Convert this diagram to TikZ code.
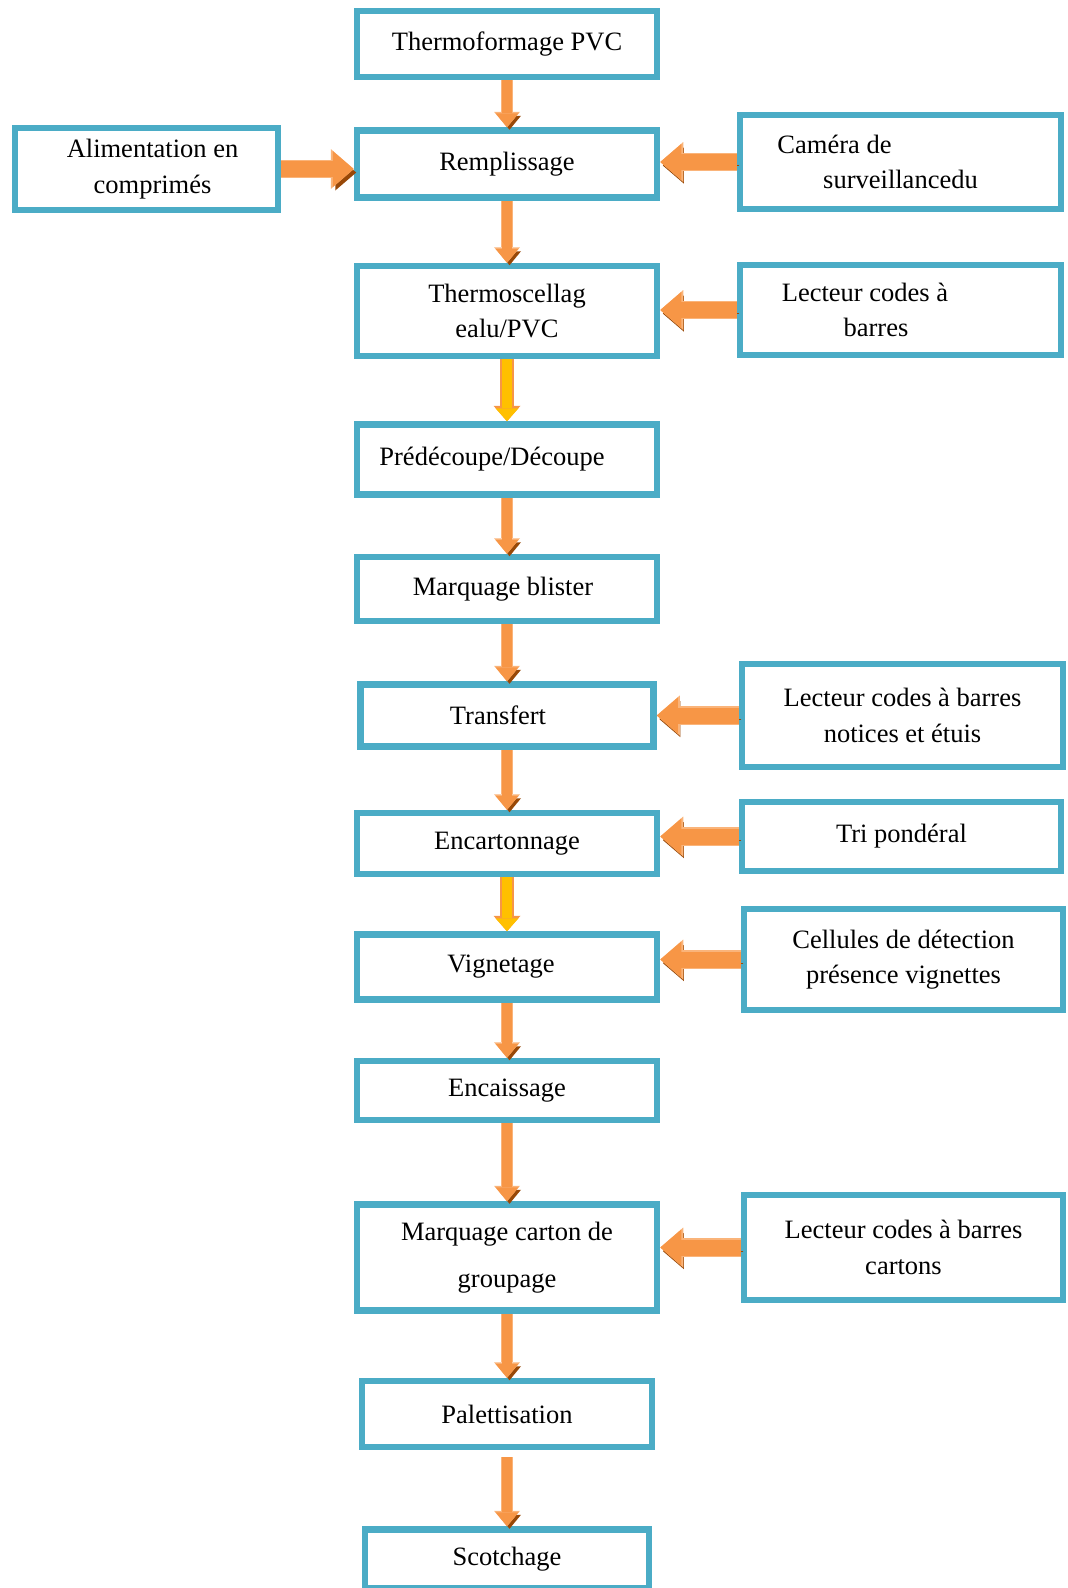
\documentclass[tikz,border=0pt]{standalone}
\usepackage{fontspec}
\setmainfont{Liberation Serif}
\usetikzlibrary{arrows.meta, positioning}
\definecolor{boxBorder}{HTML}{4BACC6}
\definecolor{arrowFill}{HTML}{F79646}
\definecolor{arrowEdge}{HTML}{FAB47A}
\definecolor{arrowShadow}{HTML}{984807}
\definecolor{arrowYellow}{HTML}{FFC000}

\begin{document}
\begin{tikzpicture}[
    x=1pt, y=-1pt,
    font=\fontsize{26.5}{35.5}\selectfont,
    stepbox/.style={
        draw=boxBorder, fill=white, line width=6.5pt,
        minimum width=300pt, minimum height=60pt,
        align=center, inner sep=2pt
    },
    sidebox/.style={
        stepbox, minimum width=319pt
    },
    flowarrow/.style={
        draw=arrowFill, line width=10pt,
        -{Triangle[length=14pt,width=23pt,line width=0pt]},
        preaction={draw=arrowShadow,
            transform canvas={shift={(2.5pt,-2.5pt)}}},
        preaction={draw=arrowEdge, line width=12.5pt,
            -{Triangle[length=15.5pt,width=26pt,line width=0pt]}}
    },
    yellowarrow/.style={
        draw=arrowYellow, line width=10pt,
        -{Triangle[length=13pt,width=23pt,line width=0pt]},
        preaction={draw=arrowFill, line width=13.5pt,
            -{Triangle[length=15.5pt,width=27pt,line width=0pt]}}
    },
    sidearrow/.style={
        draw=arrowFill, line width=16pt,
        -{Triangle[length=21pt,width=36pt,line width=0pt]},
        preaction={draw=arrowShadow,
            transform canvas={shift={(2.5pt,-3.5pt)}}},
        preaction={draw=arrowEdge, line width=18.5pt,
            -{Triangle[length=23pt,width=40pt,line width=0pt]}}
    },
]
\useasboundingbox (0,0) rectangle (1068,1588);

% ============================================================
%  MAIN COLUMN
% ============================================================
\node[stepbox, minimum height=66pt] (thermo) at (507,44) {Thermoformage PVC};

\node[stepbox, minimum height=67pt, below=47pt of thermo] (rempl)
    {Remplissage};

\node[stepbox, minimum height=90pt, below=62pt of rempl] (scell)
    {Thermoscellag\\ealu/PVC};

\node[stepbox, minimum height=70pt, below=62pt of scell] (decoupe)
    {Prédécoupe/Découpe\hspace*{30pt}};

\node[stepbox, minimum height=64pt, below=56pt of decoupe] (marqbl)
    {Marquage blister\hspace*{8pt}};

\node[stepbox, minimum width=293pt, minimum height=62pt,
      below=57pt of marqbl] (transf)
    {Transfert\hspace*{18pt}};

\node[stepbox, minimum height=61pt, below=60pt of transf] (encart)
    {Encartonnage};

\node[stepbox, minimum height=65pt, below=54pt of encart] (vignet)
    {Vignetage\hspace*{12pt}};

\node[stepbox, minimum height=59pt, below=55pt of vignet] (encaiss)
    {Encaissage};

\node[stepbox, minimum height=106pt, below=78pt of encaiss] (marqcart)
    {Marquage carton de\\[12pt]groupage};

\node[stepbox, minimum width=290pt, minimum height=66pt,
      below=64pt of marqcart] (palett)
    {Palettisation};

\node[stepbox, minimum width=284pt, minimum height=59pt,
      below=76pt of palett] (scotch)
    {Scotchage};

% ============================================================
%  SIDE BOXES
% ============================================================
\node[stepbox, minimum width=263pt, minimum height=82pt] (alim)
    at (146.5,169) {\hspace*{12pt}Alimentation en\\\hspace*{12pt}comprimés};

\node[sidebox, minimum width=321pt, minimum height=94pt] (camera)
    at (900.5,162) {Caméra de\hspace*{132pt}\\surveillancedu};

\node[sidebox, minimum width=321pt, minimum height=90pt] (lecteurA)
    at (900.5,310) {Lecteur codes à\hspace*{71pt}\\barres\hspace*{49pt}};

\node[sidebox, minimum width=321pt, minimum height=103pt] (lecteurB)
    at (902.5,715.5) {Lecteur codes à barres\\notices et étuis};

\node[sidebox, minimum height=69pt] (tri)
    at (901.5,836.5) {Tri pondéral};

\node[sidebox, minimum height=101pt] (cellules)
    at (903.5,959.5) {Cellules de détection\\présence vignettes};

\node[sidebox, minimum height=105pt] (lecteurC)
    at (903.5,1247.5) {Lecteur codes à barres\\cartons};

% ============================================================
%  DOWNWARD FLOW
% ============================================================
\draw[flowarrow] (thermo.south) -- (rempl.north);
\draw[flowarrow] (rempl.south) -- (scell.north);
\draw[yellowarrow] (scell.south) -- (decoupe.north);
\draw[flowarrow] (decoupe.south) -- (marqbl.north);
\draw[flowarrow] (marqbl.south) -- (transf.north);
\draw[flowarrow] (transf.south) -- (encart.north);
\draw[yellowarrow] (encart.south) -- (vignet.north);
\draw[flowarrow] (vignet.south) -- (encaiss.north);
\draw[flowarrow] (encaiss.south) -- (marqcart.north);
\draw[flowarrow] (marqcart.south) -- (palett.north);
\draw[flowarrow, shorten <=7pt] (palett.south) -- (scotch.north);

% ============================================================
%  SIDE INPUTS
% ============================================================
\draw[sidearrow] (alim.east) -- (alim.east -| rempl.west);
\draw[sidearrow] (camera.west) -- (camera.west -| rempl.east);
\draw[sidearrow] (lecteurA.west) -- (lecteurA.west -| scell.east);
\draw[sidearrow] (lecteurB.west) -- (lecteurB.west -| transf.east);
\draw[sidearrow] (tri.west) -- (tri.west -| encart.east);
\draw[sidearrow] (cellules.west) -- (cellules.west -| vignet.east);
\draw[sidearrow] (lecteurC.west) -- (lecteurC.west -| marqcart.east);

\end{tikzpicture}
\end{document}
